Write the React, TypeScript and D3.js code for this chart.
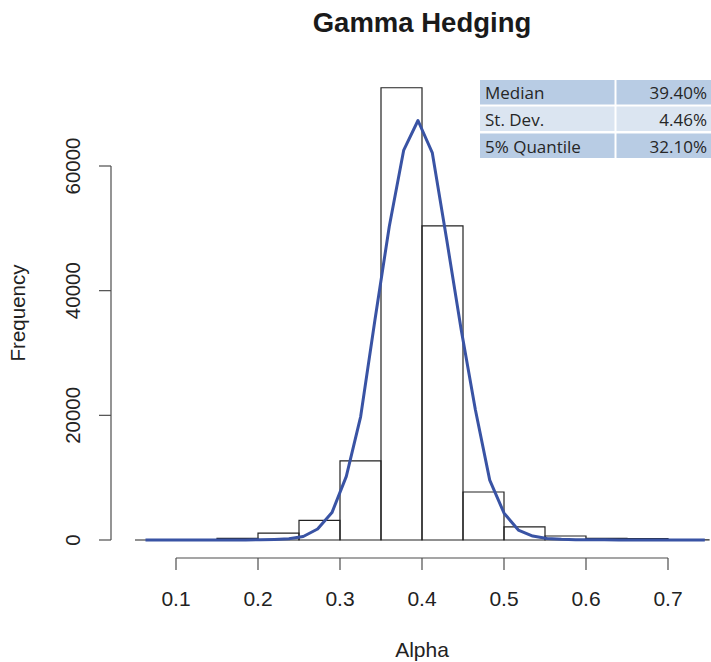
import React from "react";
import * as d3 from "d3";

const binStarts = [0.05, 0.1, 0.15, 0.2, 0.25, 0.3, 0.35, 0.4, 0.45, 0.5, 0.55, 0.6, 0.65, 0.7];
const binCounts = [0, 10, 270, 1100, 3150, 12700, 72550, 50400, 7700, 2090, 640, 260, 240, 10];
const binWidth = 0.05;

const curveAlpha = [
  0.0628, 0.0803, 0.0978, 0.1153, 0.1328, 0.1503, 0.1677, 0.1852, 0.2027, 0.2202,
  0.2377, 0.2552, 0.2727, 0.2902, 0.3077, 0.3252, 0.3426, 0.3601, 0.3776, 0.3951,
  0.4126, 0.4301, 0.4476, 0.4651, 0.4826, 0.5001, 0.5175, 0.535, 0.5525, 0.57,
  0.5875, 0.605, 0.6225, 0.64, 0.6575, 0.675, 0.6924, 0.7099, 0.7274, 0.7449,
];
const curveFreq = [
  0, 0, 0, 0, 0, 5, 10, 20, 50, 100,
  200, 560, 1770, 4400, 10200, 19800, 35300, 50300, 62500, 67300,
  62100, 48200, 33900, 20900, 9600, 4300, 1600, 640, 250, 120,
  60, 40, 30, 20, 15, 10, 5, 5, 0, 0,
];

const xTicks = [0.1, 0.2, 0.3, 0.4, 0.5, 0.6, 0.7];
const yTicks = [0, 20000, 40000, 60000];

const tableLabels = ["Median", "St. Dev.", "5% Quantile"];
const tableValues = ["39.40%", "4.46%", "32.10%"];

const title = "Gamma Hedging";
const xTitle = "Alpha";
const yTitle = "Frequency";

export default function App() {
  const x = d3.scaleLinear().domain([0.05, 0.75]).range([135, 709]);
  const y = d3.scaleLinear().domain([0, 60000]).range([540, 166]);
  const line = d3
    .line<number>()
    .x((_, i) => x(curveAlpha[i]))
    .y((d) => y(d));

  const font = "'Liberation Sans', Arial, Helvetica, sans-serif";
  const axisColor = "#4d4d4d";
  const xAxisY = 558;
  const yAxisX = 111;

  const rowTops = [80, 106.5, 133.5];
  const rowH = 24.5;
  const rowFill = ["#b8cce4", "#dbe5f1", "#b8cce4"];
  const tableFont = "'Open Sans', 'Noto Sans', sans-serif";

  return (
    <svg
      width={711}
      height={662}
      style={{ position: "absolute", left: 0, top: 0, background: "#fff" }}
      fontFamily={font}
    >
      <rect x={0} y={0} width={711} height={662} fill="#fff" />
      {/* Title */}
      <text x={422} y={32} textAnchor="middle" fontSize={27.5} fontWeight="bold" fill="#1a1a1a">
        {title}
      </text>

      {/* Bars */}
      {binStarts.map((b, i) => {
        const x0 = x(b);
        const x1 = x(b + binWidth);
        const y0 = y(0);
        const y1 = y(binCounts[i]);
        return (
          <path
            key={i}
            d={`M${x0},${y0}V${y1}H${x1}V${y0}Z`}
            fill="none"
            stroke="#222"
            strokeWidth={1.2}
          />
        );
      })}

      {/* Density curve */}
      <path d={line(curveFreq) || ""} fill="none" stroke="#3953a4" strokeWidth={3} strokeLinejoin="round" />

      {/* X axis */}
      <line x1={x(xTicks[0])} x2={x(xTicks[xTicks.length - 1])} y1={xAxisY} y2={xAxisY} stroke={axisColor} strokeWidth={1.2} />
      {xTicks.map((t) => (
        <g key={t}>
          <line x1={x(t)} x2={x(t)} y1={xAxisY} y2={xAxisY + 12} stroke={axisColor} strokeWidth={1.2} />
          <text x={x(t)} y={606} textAnchor="middle" fontSize={21} fill="#222">
            {d3.format(".1f")(t)}
          </text>
        </g>
      ))}
      <text x={422} y={657} textAnchor="middle" fontSize={21} fill="#222">
        {xTitle}
      </text>

      {/* Y axis */}
      <line x1={yAxisX} x2={yAxisX} y1={y(yTicks[0])} y2={y(yTicks[yTicks.length - 1])} stroke={axisColor} strokeWidth={1.2} />
      {yTicks.map((t) => (
        <g key={t}>
          <line x1={yAxisX} x2={yAxisX - 12} y1={y(t)} y2={y(t)} stroke={axisColor} strokeWidth={1.2} />
          <text
            transform={`translate(80,${y(t)}) rotate(-90)`}
            textAnchor="middle"
            fontSize={20.5}
            fill="#222"
          >
            {String(t)}
          </text>
        </g>
      ))}
      <text transform={`translate(25,313) rotate(-90)`} textAnchor="middle" fontSize={20.5} fill="#222">
        {yTitle}
      </text>

      {/* Stats table */}
      {tableLabels.map((lab, i) => (
        <g key={lab}>
          <rect x={480} y={rowTops[i]} width={134.5} height={rowH} fill={rowFill[i]} />
          <rect x={616.5} y={rowTops[i]} width={94.5} height={rowH} fill={rowFill[i]} />
          <text x={485} y={rowTops[i] + 19} fontSize={17} fill="#262626" fontFamily={tableFont}>
            {lab}
          </text>
          <text x={707} y={rowTops[i] + 19} textAnchor="end" fontSize={17} fill="#262626" fontFamily={tableFont}>
            {tableValues[i]}
          </text>
        </g>
      ))}
    </svg>
  );
}
